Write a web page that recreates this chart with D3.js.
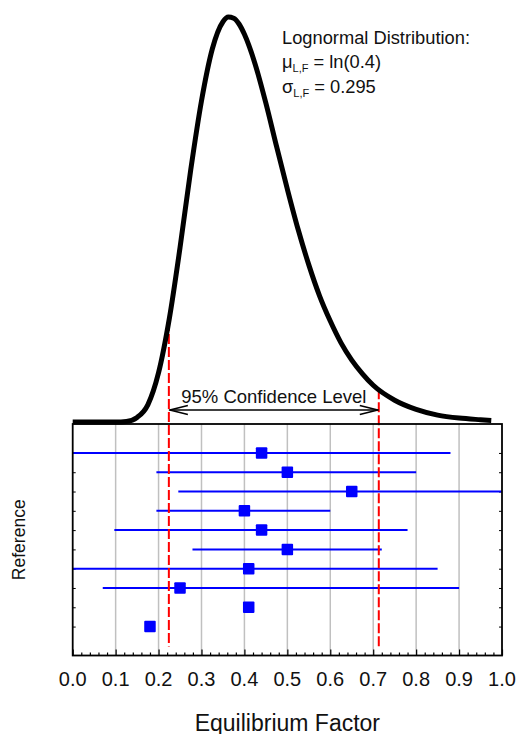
<!DOCTYPE html>
<html>
<head>
<meta charset="utf-8">
<script src="https://cdn.jsdelivr.net/npm/d3@7"></script>
<style>
  body { margin: 0; background: #fff; }
  svg { display: block; font-family: "Liberation Sans", Arial, sans-serif; }
</style>
</head>
<body>
<svg id="chart"></svg>
<script>
// reference rows, top to bottom
const refs = [1, 2, 3, 4, 5, 6, 7, 8, 9, 10];
const means = [0.44, 0.50, 0.65, 0.40, 0.44, 0.50, 0.41, 0.25, 0.41, 0.18];
const lows = [0.0, 0.195, 0.246, 0.195, 0.097, 0.279, 0.0, 0.07, null, null];
const highs = [0.88, 0.80, 1.0, 0.60, 0.78, 0.72, 0.85, 0.90, null, null];

// lognormal curve
const curveX = [0.0, 0.10, 0.125, 0.15, 0.175, 0.20, 0.225, 0.25, 0.275, 0.30, 0.325, 0.35, 0.3625, 0.375, 0.3875, 0.40, 0.425, 0.45, 0.475, 0.50, 0.525, 0.55, 0.575, 0.60, 0.625, 0.65, 0.675, 0.70, 0.75, 0.80, 0.85, 0.90, 0.95, 0.975];
const curveY = [0.0, 0.0, 0.005, 0.04, 0.15, 0.43, 0.90, 1.52, 2.20, 2.80, 3.25, 3.49, 3.53, 3.52, 3.47, 3.38, 3.12, 2.78, 2.40, 2.03, 1.68, 1.37, 1.10, 0.88, 0.69, 0.54, 0.42, 0.32, 0.19, 0.11, 0.06, 0.034, 0.02, 0.014];

const ciBounds = [0.224, 0.713];
const xTicks = [0, 0.1, 0.2, 0.3, 0.4, 0.5, 0.6, 0.7, 0.8, 0.9, 1.0];

const width = 516;
const height = 734;
const pLeft = 72.7, pRight = 502, pTop = 424, pBottom = 655.5;

const svg = d3.select("#chart").attr("width", width).attr("height", height);

const x = d3.scaleLinear().domain([0, 1]).range([pLeft, pRight]);
const yRow = d3.scaleLinear().domain([-0.5, 11.5]).range([pTop, pBottom]);
const yDens = d3.scaleLinear().domain([0, 3.6]).range([pTop - 2, pTop - 2 - 3.6 * 114.7]);

svg.append("defs").append("clipPath").attr("id", "plot-clip")
  .append("rect").attr("x", pLeft).attr("y", pTop).attr("width", pRight - pLeft).attr("height", pBottom - pTop);

// gridlines
svg.append("g")
  .selectAll("line")
  .data(xTicks.slice(1, -1))
  .enter()
  .append("line")
  .attr("x1", (d) => x(d)).attr("x2", (d) => x(d))
  .attr("y1", pTop).attr("y2", pBottom)
  .attr("stroke", "#c0c0c0")
  .attr("stroke-width", 1.5);

// bottom axis: ticks inward
const xAxis = d3.axisTop(x).tickValues(xTicks).tickSize(6).tickFormat("");
svg.append("g").attr("transform", `translate(0, ${pBottom})`).call(xAxis)
  .call((g) => g.select(".domain").remove())
  .call((g) => g.selectAll("line").attr("stroke-width", 1.2));
const minor = d3.range(0, 50).map((i) => i * 0.02).filter((d, i) => i % 5 !== 0);
const xMinor = d3.axisTop(x).tickValues(minor).tickSize(3).tickFormat("");
svg.append("g").attr("transform", `translate(0, ${pBottom})`).call(xMinor)
  .call((g) => g.select(".domain").remove())
  .call((g) => g.selectAll("line").attr("stroke-width", 1.2));

// tick labels
svg.append("g")
  .selectAll("text")
  .data(xTicks)
  .enter()
  .append("text")
  .attr("x", (d) => x(d))
  .attr("y", 686)
  .attr("text-anchor", "middle")
  .attr("font-size", 20)
  .attr("fill", "#111")
  .text((d) => d.toFixed(1));

// y ticks inward, both sides
const yAxisL = d3.axisRight(yRow).tickValues(refs).tickSize(3).tickFormat("");
svg.append("g").attr("transform", `translate(${pLeft}, 0)`).call(yAxisL)
  .call((g) => g.select(".domain").remove());
const yAxisR = d3.axisLeft(yRow).tickValues(refs).tickSize(3).tickFormat("");
svg.append("g").attr("transform", `translate(${pRight}, 0)`).call(yAxisR)
  .call((g) => g.select(".domain").remove());

// error bars
const rows = refs.map((r, i) => ({ ref: r, mean: means[i], low: lows[i], high: highs[i] }));
const plot = svg.append("g").attr("clip-path", "url(#plot-clip)");
plot.selectAll(".bar")
  .data(rows.filter((d) => d.low !== null))
  .enter()
  .append("line")
  .attr("class", "bar")
  .attr("x1", (d) => x(d.low)).attr("x2", (d) => x(d.high))
  .attr("y1", (d) => yRow(d.ref)).attr("y2", (d) => yRow(d.ref))
  .attr("stroke", "#0000ff")
  .attr("stroke-width", 2);

// CI dashed lines
const densAt = (v) => {
  const i = d3.bisectLeft(curveX, v);
  const t = (v - curveX[i - 1]) / (curveX[i] - curveX[i - 1]);
  return curveY[i - 1] + t * (curveY[i] - curveY[i - 1]);
};
svg.append("g")
  .selectAll("line")
  .data(ciBounds)
  .enter()
  .append("line")
  .attr("x1", (d) => x(d)).attr("x2", (d) => x(d))
  .attr("y1", (d) => yDens(densAt(d)))
  .attr("y2", pBottom - 9)
  .attr("stroke", "#ff0000")
  .attr("stroke-width", 2)
  .attr("stroke-dasharray", "10,3");

// markers
const ms = 11.5;
plot.selectAll(".pt")
  .data(rows)
  .enter()
  .append("rect")
  .attr("class", "pt")
  .attr("x", (d) => x(d.mean) - ms / 2)
  .attr("y", (d) => yRow(d.ref) - ms / 2)
  .attr("width", ms).attr("height", ms)
  .attr("rx", 1)
  .attr("fill", "#0000ff");

// frame
svg.append("rect")
  .attr("x", pLeft).attr("y", pTop)
  .attr("width", pRight - pLeft).attr("height", pBottom - pTop)
  .attr("fill", "none")
  .attr("stroke", "#000")
  .attr("stroke-width", 1.8);

// distribution curve
const line = d3.line()
  .x((d, i) => x(curveX[i]))
  .y((d) => yDens(d))
  .curve(d3.curveMonotoneX);
svg.append("path")
  .datum(curveY)
  .attr("d", line)
  .attr("fill", "none")
  .attr("stroke", "#000")
  .attr("stroke-width", 5)
  .attr("stroke-linejoin", "round");

// confidence arrow
const ay = 410;
const x1 = x(ciBounds[0]), x2 = x(ciBounds[1]);
svg.append("line").attr("x1", x1).attr("x2", x2).attr("y1", ay).attr("y2", ay)
  .attr("stroke", "#000").attr("stroke-width", 1.5);
svg.append("path")
  .attr("d", `M${x1 + 19},${ay - 4.5}L${x1 + 1},${ay}L${x1 + 19},${ay + 4.5}M${x2 - 19},${ay - 4.5}L${x2 - 1},${ay}L${x2 - 19},${ay + 4.5}`)
  .attr("fill", "none").attr("stroke", "#000").attr("stroke-width", 1.5);
svg.append("text")
  .attr("x", (x1 + x2) / 2)
  .attr("y", 403)
  .attr("text-anchor", "middle")
  .attr("font-size", 18.5)
  .attr("fill", "#111")
  .text("95% Confidence Level");

// annotation
const ann = svg.append("g").attr("font-size", 18.3).attr("fill", "#111");
ann.append("text").attr("x", 282).attr("y", 44).text("Lognormal Distribution:");
const t2 = ann.append("text").attr("x", 282).attr("y", 68);
t2.append("tspan").text("μ");
t2.append("tspan").attr("font-size", 11).attr("dy", 4).text("L,F");
t2.append("tspan").attr("dy", -4).text(" = ln(0.4)");
const t3 = ann.append("text").attr("x", 282).attr("y", 93);
t3.append("tspan").text("σ");
t3.append("tspan").attr("font-size", 11).attr("dy", 4).text("L,F");
t3.append("tspan").attr("dy", -4).text(" = 0.295");

// axis titles
svg.append("text")
  .attr("x", (pLeft + pRight) / 2)
  .attr("y", 730.5)
  .attr("text-anchor", "middle")
  .attr("font-size", 23)
  .attr("fill", "#111")
  .text("Equilibrium Factor");

svg.append("text")
  .attr("transform", `translate(25, ${(pTop + pBottom) / 2}) rotate(-90)`)
  .attr("text-anchor", "middle")
  .attr("font-size", 17.5)
  .attr("fill", "#111")
  .text("Reference");
</script>
</body>
</html>
